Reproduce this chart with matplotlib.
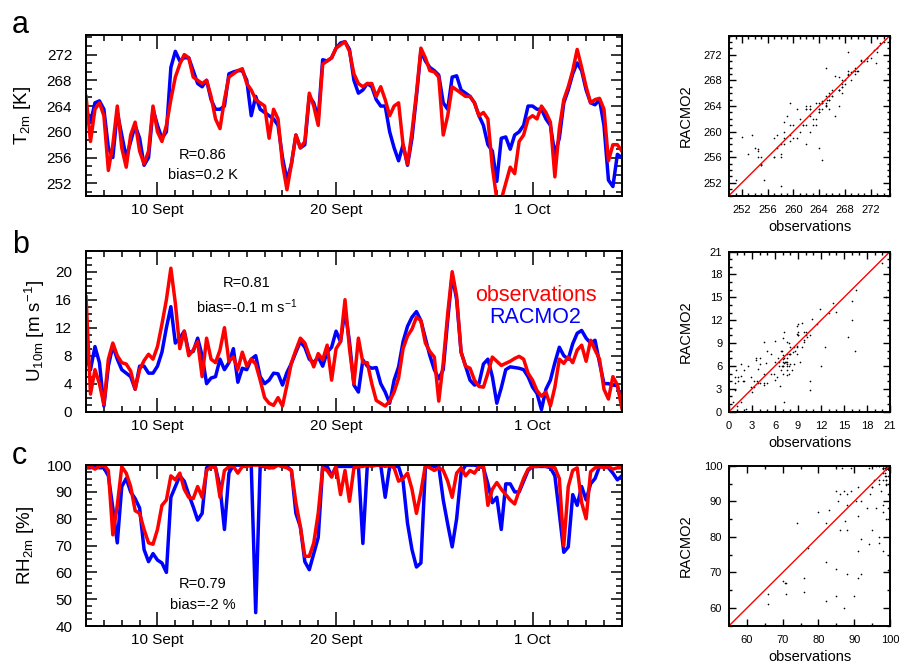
import numpy as np
import matplotlib
matplotlib.use("Agg")
import matplotlib.pyplot as plt
import matplotlib.dates as mdates
from matplotlib.ticker import MultipleLocator, AutoMinorLocator

plt.rcParams['font.family'] = ['Liberation Sans', 'DejaVu Sans']
plt.rcParams['mathtext.default'] = 'regular'

# 6-hourly values, 6 Sept 00 UTC to 6 Oct 00 UTC (one row per day)
t2m_obs = [
    265.5, 258.5, 263.5, 264.5,
    262.5, 254.0, 258.0, 264.0,
    257.5, 254.5, 259.5, 261.5,
    257.0, 255.0, 257.0, 264.0,
    260.0, 258.5, 261.0, 265.0,
    268.5, 270.5, 272.0, 271.5,
    268.5, 268.0, 267.5, 268.0,
    265.5, 262.0, 260.5, 265.0,
    268.5, 269.0, 269.5, 269.8,
    267.5, 266.5, 265.0, 264.5,
    264.0, 259.0, 263.5, 262.0,
    255.0, 251.0, 255.0, 259.5,
    257.5, 258.5, 266.0, 264.0,
    261.0, 270.5, 271.0, 271.5,
    273.0, 273.5, 274.0, 272.5,
    269.0, 267.5, 267.0, 267.5,
    267.5, 265.5, 267.0, 265.0,
    262.5, 264.0, 264.5, 258.0,
    255.0, 260.0, 266.0, 273.0,
    271.5, 269.5, 269.3, 268.5,
    259.5, 262.5, 267.0, 266.5,
    266.0, 265.5, 265.5, 264.5,
    262.5, 263.0, 262.0, 254.5,
    249.5, 249.5, 252.0, 254.5,
    253.5, 258.5, 259.5, 262.0,
    262.5, 262.0, 264.0, 263.0,
    261.5, 253.0, 260.5, 265.0,
    267.0, 269.5, 272.8, 270.0,
    267.0, 264.5, 265.0, 265.2,
    263.5, 255.5, 258.0, 258.0,
    257.0,
]
t2m_mod = [
    263.5, 261.5, 264.5, 264.8,
    263.5, 257.5, 256.0, 263.0,
    259.5, 256.0, 258.5, 261.0,
    259.0, 254.8, 256.0, 263.5,
    261.0, 259.0, 260.0, 270.0,
    272.5, 271.0, 271.5, 271.5,
    269.5, 267.5, 267.0, 268.0,
    265.0, 263.5, 263.5, 264.0,
    269.0, 269.3, 269.5, 269.5,
    268.0, 262.5, 265.5, 263.5,
    263.0, 262.5, 262.0, 261.0,
    256.0, 252.5, 255.0, 259.5,
    257.5, 258.0, 265.5, 264.5,
    262.0, 271.2, 271.0, 271.5,
    273.0, 273.8, 274.0, 272.8,
    268.0, 266.0, 266.5, 267.5,
    267.0, 265.0, 264.0, 264.0,
    260.0, 257.5, 255.5, 258.0,
    254.8, 259.0, 265.5, 272.5,
    271.0, 270.0, 269.5, 268.8,
    264.5, 263.5, 268.5, 268.7,
    266.5, 266.0, 265.5, 264.5,
    262.5, 261.0, 258.0, 257.0,
    252.3, 259.0, 259.2, 257.3,
    259.5, 260.0, 261.0, 264.0,
    264.0, 263.5, 263.5, 262.0,
    261.0, 256.5, 259.0, 264.5,
    266.5, 269.0, 270.7, 269.5,
    266.5, 264.5, 264.2, 265.0,
    261.0, 252.5, 251.5, 256.5,
    256.0,
]
u10_obs = [
    16.4, 2.5, 6.0, 4.0,
    1.0, 7.5, 9.8, 8.0,
    7.0, 6.8, 5.8, 3.2,
    6.0, 7.3, 8.2, 7.5,
    9.3, 12.5, 16.0, 20.5,
    15.5, 9.0, 11.5, 8.0,
    8.8, 10.0, 5.0, 10.5,
    7.5, 7.0, 8.8, 12.0,
    7.2, 7.8, 6.0, 8.5,
    6.5, 7.5, 6.8, 4.5,
    2.0, 1.2, 0.9, 2.0,
    0.8, 3.8, 7.0, 8.8,
    10.5, 9.8, 8.0, 6.4,
    8.3, 7.4, 9.5, 4.5,
    9.0, 10.0, 16.0, 9.0,
    4.0, 10.5, 7.0, 7.0,
    4.0, 1.6, 1.2, 0.8,
    1.5, 2.8, 4.8, 9.0,
    10.8, 11.8, 13.5, 13.0,
    9.8, 8.6, 7.8, 1.5,
    7.0, 14.0, 20.0, 16.5,
    8.5, 6.5, 6.2, 4.5,
    3.6, 3.5, 5.5, 7.8,
    7.2, 6.6, 6.9, 7.2,
    7.6, 7.9, 7.5, 5.5,
    4.5, 3.0, 2.2, 2.8,
    0.8, 3.5, 7.5, 6.9,
    7.8, 7.0, 8.8, 9.5,
    7.2, 10.2, 8.8, 7.5,
    3.2, 1.8, 5.0, 3.8,
    0.5,
]
u10_mod = [
    7.9, 6.0, 9.3, 7.0,
    0.8, 6.5, 9.4, 7.5,
    6.0, 5.5, 5.0, 3.2,
    6.5, 6.5, 5.5, 5.5,
    6.5, 8.5, 12.0, 15.0,
    9.8, 10.5, 11.5, 8.5,
    8.6, 10.5, 8.0, 4.0,
    4.8, 5.0, 7.5, 6.0,
    7.0, 9.0, 4.2, 6.2,
    6.0, 7.5, 8.0, 5.0,
    4.0, 4.5, 5.5, 5.4,
    3.8, 5.6, 6.9, 8.5,
    10.0, 9.2, 7.5, 7.0,
    7.8, 6.5, 8.5, 9.2,
    11.5, 10.0, 14.5, 10.0,
    3.8, 2.8, 7.4, 6.5,
    6.2, 6.3, 4.0, 2.8,
    1.2, 4.5, 6.4, 10.0,
    12.2, 13.5, 14.3, 13.0,
    10.5, 8.0, 6.0, 4.7,
    6.0, 13.1, 19.5, 16.0,
    8.5, 6.5, 4.5, 3.8,
    4.0, 6.8, 7.5, 5.0,
    1.2, 3.4, 6.0, 6.4,
    6.3, 6.2, 6.0, 5.0,
    3.5, 2.6, 0.3, 3.2,
    4.5, 7.0, 9.2, 8.0,
    7.5, 9.7, 11.2, 11.6,
    10.5, 9.8, 10.2, 7.0,
    4.0, 4.0, 3.8, 3.7,
    1.2,
]
rh_obs = [
    99.0, 99.5, 98.5, 99.5,
    100.0, 98.0, 74.0, 85.0,
    99.4, 97.0, 92.0, 83.0,
    82.0, 76.0, 71.0, 70.5,
    76.0, 85.0, 87.0, 96.0,
    94.5, 97.0, 91.0, 88.0,
    87.5, 92.0, 88.0, 98.0,
    99.4, 99.0, 88.0, 98.0,
    99.4, 99.5, 97.0, 99.5,
    99.5, 100.0, 100.0, 100.0,
    99.5, 99.0, 99.0, 100.0,
    99.5, 99.0, 98.0, 86.0,
    77.0, 66.0, 66.0, 71.0,
    82.0, 99.0, 98.0, 95.5,
    99.5, 89.0, 98.0, 86.5,
    99.0, 99.4, 99.5, 100.0,
    99.5, 100.0, 100.0, 99.5,
    100.0, 99.0, 94.0, 95.0,
    97.0, 91.0, 82.0, 90.0,
    100.0, 99.0, 98.0, 99.0,
    98.0, 94.0, 88.0, 97.0,
    99.0, 96.0, 98.0, 97.0,
    99.5, 99.5, 85.0, 91.0,
    93.5, 91.0, 89.0, 87.0,
    85.5, 90.5, 95.0, 98.5,
    99.5, 99.5, 100.0, 99.5,
    99.5, 99.0, 95.0, 70.0,
    92.0, 98.0, 99.0, 86.0,
    80.0, 97.5, 99.0, 99.5,
    99.0, 99.5, 98.5, 99.0,
    99.0,
]
rh_mod = [
    99.0, 99.0, 99.5, 99.0,
    99.0, 96.0, 84.0, 71.0,
    92.0, 95.0, 90.0, 87.5,
    84.0, 68.5, 64.0, 67.0,
    64.6, 63.5, 60.0, 88.0,
    92.0, 96.0, 94.0, 89.0,
    84.5, 79.5, 82.0, 99.0,
    100.0, 99.0, 92.0, 76.0,
    97.0, 100.0, 100.0, 100.0,
    100.0, 100.0, 45.0, 99.5,
    99.5, 99.0, 99.5, 100.0,
    99.5, 99.5, 98.0, 82.0,
    77.0, 64.0, 61.0, 67.0,
    73.0, 99.4, 99.5, 96.0,
    99.5, 99.5, 99.5, 99.5,
    99.5, 100.0, 70.8, 100.0,
    100.0, 100.0, 100.0, 88.0,
    99.5, 99.5, 99.5, 94.0,
    78.3, 68.5, 62.0, 63.5,
    99.0, 100.0, 99.5, 99.5,
    87.0, 78.0, 69.5, 80.0,
    97.0, 100.0, 100.0, 100.0,
    99.5, 99.0, 93.0, 86.0,
    88.0, 76.0, 93.0, 93.0,
    90.0, 90.0, 94.0, 98.0,
    99.5, 99.5, 99.5, 99.5,
    99.0, 96.0, 82.0, 67.5,
    69.5, 89.0, 85.0, 92.0,
    87.0, 93.0, 95.0, 99.5,
    99.5, 99.0, 97.0, 94.5,
    96.0,
]

start = np.datetime64('2012-09-06T00:00')
times = start + np.arange(len(t2m_obs)) * np.timedelta64(6, 'h')
date_ticks = np.array(['2012-09-10', '2012-09-20', '2012-10-01'], dtype='datetime64[D]')
date_labels = ['10 Sept', '20 Sept', '1 Oct']

panels = [
    dict(obs=t2m_obs, mod=t2m_mod, ylim=(250, 275), ystep=4, yminor=3,
         ylabel='T$_{2m}$ [K]', lab_x=-0.099, letter='a', letter_y=33,
         stats=('R=0.86', 'bias=0.2 K'), sx=0.218, sy=(0.255, 0.13),
         slim=(250, 275), sticks=np.arange(252, 273, 4), sminor=4),
    dict(obs=u10_obs, mod=u10_mod, ylim=(0, 23), ystep=4, yminor=4,
         ylabel='U$_{10m}$ [m s$^{-1}$]', lab_x=-0.073, letter='b', letter_y=253,
         stats=('R=0.81', 'bias=-0.1 m s$^{-1}$'), sx=0.30, sy=(0.80, 0.65),
         slim=(0, 21), sticks=np.arange(0, 22, 3), sminor=3),
    dict(obs=rh_obs, mod=rh_mod, ylim=(40, 100), ystep=10, yminor=4,
         ylabel='RH$_{2m}$ [%]', lab_x=-0.093, letter='c', letter_y=464,
         stats=('R=0.79', 'bias=-2 %'), sx=0.218, sy=(0.26, 0.13),
         slim=(55, 100), sticks=np.arange(60, 101, 10), sminor=2),
]

fig = plt.figure(figsize=(8.99, 6.65), dpi=100)
ts_bottoms = [0.705, 0.381, 0.0586]
sc_bottoms = [0.706, 0.381, 0.059]

for p, tb, sb in zip(panels, ts_bottoms, sc_bottoms):
    ax = fig.add_axes([0.0957, tb, 0.596, 0.242])
    ax.plot(times, p['mod'], color='#0000ff', lw=2.5)
    ax.plot(times, p['obs'], color='#ff0000', lw=2.5)
    ax.set_xlim(times[0], times[-1])
    ax.set_ylim(*p['ylim'])
    ax.set_xticks(mdates.date2num(date_ticks), labels=date_labels)
    ax.xaxis.set_minor_locator(mdates.DayLocator())
    ax.yaxis.set_major_locator(MultipleLocator(p['ystep']))
    ax.yaxis.set_minor_locator(AutoMinorLocator(p['yminor']))
    ax.tick_params(which='both', direction='in', top=True, right=True, width=1.1)
    ax.tick_params(which='major', length=8, labelsize=11)
    ax.tick_params(which='minor', length=4)
    ax.tick_params(axis='y', which='major', pad=10)
    ax.tick_params(axis='x', which='major', length=10, pad=5)
    for s in ax.spines.values():
        s.set_linewidth(1.4)
    ax.set_ylabel(p['ylabel'], fontsize=13.5)
    ax.yaxis.set_label_coords(p['lab_x'], 0.5)
    ax.text(p['sx'], p['sy'][0], p['stats'][0], transform=ax.transAxes,
            ha='center', va='center', fontsize=10.5)
    ax.text(p['sx'], p['sy'][1], p['stats'][1], transform=ax.transAxes,
            ha='center', va='center', fontsize=10.5)
    fig.text(12 / 899, 1 - p['letter_y'] / 665, p['letter'], fontsize=22, va='baseline')
    if p['letter'] == 'b':
        ax.text(0.839, 0.689, 'observations', color='#ff0000', transform=ax.transAxes,
                ha='center', va='baseline', fontsize=15.5)
        ax.text(0.839, 0.553, 'RACMO2', color='#0000ff', transform=ax.transAxes,
                ha='center', va='baseline', fontsize=15.5)

    sx = fig.add_axes([0.811, sb, 0.179, 0.2406])
    sx.plot(p['obs'], p['mod'], 'k.', ms=2.4, mec='none')
    sx.axline((p['slim'][0], p['slim'][0]), slope=1, color='#ff0000', lw=1)
    sx.set_xlim(*p['slim'])
    sx.set_ylim(*p['slim'])
    sx.set_xticks(p['sticks'])
    sx.set_yticks(p['sticks'])
    sx.xaxis.set_minor_locator(AutoMinorLocator(p['sminor']))
    sx.yaxis.set_minor_locator(AutoMinorLocator(p['sminor']))
    sx.tick_params(which='both', direction='in', top=True, right=True, width=1)
    sx.tick_params(which='major', length=5, labelsize=8)
    sx.tick_params(which='minor', length=2.5)
    sx.tick_params(axis='x', which='major', pad=7)
    sx.tick_params(axis='y', which='major', pad=5)
    for s in sx.spines.values():
        s.set_linewidth(1.4)
    sx.set_xlabel('observations', fontsize=10.5)
    sx.set_ylabel('RACMO2', fontsize=10.5)
    sx.xaxis.set_label_coords(0.5, -0.15)
    sx.yaxis.set_label_coords(-0.224, 0.5)

fig.savefig('out.png', dpi=100)
